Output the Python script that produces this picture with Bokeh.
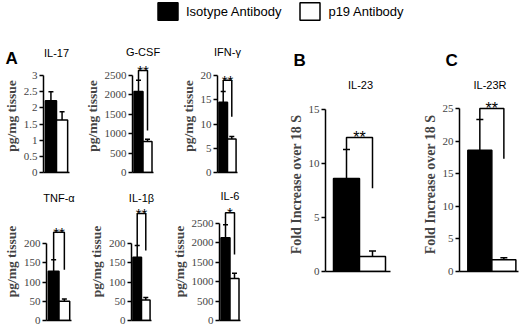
from bokeh.plotting import figure
from bokeh.layouts import row, column
from bokeh.models import (Range1d, FactorRange, FixedTicker, ColumnDataSource, Whisker, TeeHead,
                          Label, Title)
from bokeh.embed import file_html
from bokeh.resources import INLINE

# ---------------- data ----------------
groups = ["Isotype Antibody", "p19 Antibody"]
group_colors = ["black", "white"]
bar_x = [0.5, 1.5]

il17_vals = [2.22, 1.62]
il17_errs = [2.5, 1.88]
il17_ticks = [0, 0.5, 1, 1.5, 2, 2.5, 3]
il17_labels = ["0", "0.5", "1", "1.5", "2", "2.5", "3"]

gcsf_vals = [2090, 800]
gcsf_errs = [2380, 860]
gcsf_ticks = [0, 500, 1000, 1500, 2000, 2500]
gcsf_labels = ["0", "500", "1000", "1500", "2000", "2500"]

ifng_vals = [14.5, 6.9]
ifng_errs = [16.7, 7.4]
ifng_ticks = [0, 5, 10, 15, 20]
ifng_labels = ["0", "5", "10", "15", "20"]

tnfa_vals = [128, 50]
tnfa_errs = [158, 56]
tnfa_ticks = [0, 50, 100, 150, 200]
tnfa_labels = ["0", "50", "100", "150", "200"]

il1b_vals = [164, 53]
il1b_errs = [195, 60]
il1b_ticks = [0, 50, 100, 150, 200]
il1b_labels = ["0", "50", "100", "150", "200"]

il6_vals = [2135, 1085]
il6_errs = [2470, 1215]
il6_ticks = [0, 500, 1000, 1500, 2000, 2500]
il6_labels = ["0", "500", "1000", "1500", "2000", "2500"]

il23_vals = [8.6, 1.4]
il23_errs = [11.3, 1.9]
il23_ticks = [0, 5, 10, 15]
il23_labels = ["0", "5", "10", "15"]

il23r_vals = [18.6, 1.8]
il23r_errs = [23.3, 2.1]
il23r_ticks = [0, 5, 10, 15, 20, 25]
il23r_labels = ["0", "5", "10", "15", "20", "25"]

# significance: (marker, bracket top, right leg end)
il17_sig = None
gcsf_sig = ("**", 2630, 1080)
ifng_sig = ("**", 19.0, 11.5)
tnfa_sig = ("**", 229, 132)
il1b_sig = ("**", 278, 182)
il6_sig = ("*", 2780, 1700)
il23_sig = ("**", 12.4, 7.7)
il23r_sig = ("**", 25.0, 17.3)

SERIF = "Liberation Serif"
SANS = "Liberation Sans"


def make_panel(name, vals, errs, ticks, tick_labels, sig, ylabel, g):
    w, h, bl, br, bt, bb = g["w"], g["h"], g["bl"], g["br"], g["bt"], g["bb"]
    ppu, gap, top_px = g["ppu"], g["gap"], g["top_px"]
    fw = w - bl - br
    fh = h - bt - bb
    T = ticks[-1]
    x0 = -gap / ppu
    x1 = x0 + fw / ppu
    ys = T / top_px
    p = figure(width=w, height=h, x_range=Range1d(x0, x1), y_range=Range1d(0, fh * ys),
               min_border_left=bl, min_border_right=br, min_border_top=bt,
               min_border_bottom=bb, toolbar_location=None, output_backend="svg")
    p.outline_line_color = None
    p.xgrid.visible = False
    p.ygrid.visible = False
    p.background_fill_color = "white"
    p.border_fill_color = "white"

    src = ColumnDataSource(dict(x=bar_x, top=vals, err=errs, color=group_colors))
    p.vbar(x="x", top="top", bottom=0, width=1, fill_color="color",
           line_color="black", line_width=1.5, source=src)
    p.add_layout(Whisker(source=src, base="x", lower="top", upper="err",
                         dimension="height", line_width=1.5, line_color="black",
                         upper_head=TeeHead(size=g["cap"], line_width=1.5, line_color="black"),
                         lower_head=None))

    if sig is not None:
        mark, top, rend = sig
        p.line(x=[bar_x[0], bar_x[0], bar_x[1], bar_x[1]], y=[errs[0], top, top, rend],
               line_width=1.5, line_color="black")
        p.add_layout(Label(x=(bar_x[0] + bar_x[1]) / 2, y=top, text=mark,
                           text_align="center", text_baseline="alphabetic",
                           text_font=SANS, text_font_size=g["star"], text_color="black"))

    name_title = Title(text=name, align="center", standoff=g["title_so"],
                       text_font=SANS, text_font_size="11px", text_font_style="normal",
                       text_color="black")
    if g.get("letter"):
        letter_title = Title(text=g["letter"], align="left", offset=g["letter_dx"],
                             standoff=g["letter_so"], text_font=SANS, text_font_size="17px",
                             text_font_style="bold", text_color="black")
        if g.get("letter_first"):
            p.add_layout(letter_title, "above")
            p.add_layout(name_title, "above")
        else:
            p.add_layout(name_title, "above")
            p.add_layout(letter_title, "above")
    else:
        p.add_layout(name_title, "above")

    ya = p.yaxis[0]
    ya.ticker = FixedTicker(ticks=ticks)
    ya.major_label_overrides = {t: l for t, l in zip(ticks, tick_labels)}
    ya.bounds = (0, T)
    ya.axis_label = ylabel
    ya.axis_label_text_font = SERIF
    ya.axis_label_text_font_style = "bold"
    ya.axis_label_text_font_size = g["ylab"]
    ya.axis_label_standoff = 2
    ya.major_label_text_font = SERIF
    ya.major_label_text_font_size = "11px"
    ya.major_label_standoff = 2
    ya.major_tick_in = 0
    ya.major_tick_out = 4
    ya.major_tick_line_width = 1.5
    ya.minor_tick_line_color = None
    ya.axis_line_width = 1.5

    xa = p.xaxis[0]
    xa.ticker = FixedTicker(ticks=[])
    xa.major_label_text_font_size = "0px"
    xa.major_tick_line_color = None
    xa.minor_tick_line_color = None
    xa.bounds = (x0, g["xend"])
    xa.axis_line_width = 1.5
    return p


row1 = dict(h=153, bt=35, bb=5, ppu=12, gap=2, top_px=97, title_so=4, cap=5,
            star="15px", ylab="13.5px", xend=2.15)
row2 = dict(h=150, bt=25, bb=7, ppu=12, gap=2, top_px=77, title_so=-3, cap=5,
            star="15px", ylab="13.5px", xend=2.15)
right = dict(h=303, bt=73, bb=56, top_px=162, title_so=13, cap=7, star="16px",
             ylab="14px", xend=2.15, letter_so=1, ppu=26)

YL_A = "pg/mg tissue"
YL_B = "Fold Increase over 18 S"

f_il17 = make_panel("IL-17", il17_vals, il17_errs, il17_ticks, il17_labels, il17_sig, YL_A,
                    dict(row1, w=81, bl=41, br=12, title_so=-6, letter="A", letter_dx=-38,
                         letter_so=-17, letter_first=True))
f_gcsf = make_panel("G-CSF", gcsf_vals, gcsf_errs, gcsf_ticks, gcsf_labels, gcsf_sig, YL_A,
                    dict(row1, w=96, bl=44, br=24))
f_ifng = make_panel("IFN-\u03b3", ifng_vals, ifng_errs, ifng_ticks, ifng_labels, ifng_sig, YL_A,
                    dict(row1, w=83, bl=32, br=23))
f_tnfa = make_panel("TNF-\u03b1", tnfa_vals, tnfa_errs, tnfa_ticks, tnfa_labels, tnfa_sig, YL_A,
                    dict(row2, w=85, bl=43, br=14))
f_il1b = make_panel("IL-1\u03b2", il1b_vals, il1b_errs, il1b_ticks, il1b_labels, il1b_sig, YL_A,
                    dict(row2, w=83, bl=38, br=17))
f_il6 = make_panel("IL-6", il6_vals, il6_errs, il6_ticks, il6_labels, il6_sig, YL_A,
                   dict(row2, w=92, bl=44, br=20, top_px=97, title_so=1))
f_il23 = make_panel("IL-23", il23_vals, il23_errs, il23_ticks, il23_labels, il23_sig, YL_B,
                    dict(right, w=159, bl=65, br=24, gap=8, xend=2.19,
                         letter="B", letter_dx=-32))
f_il23r = make_panel("IL-23R", il23r_vals, il23r_errs, il23r_ticks, il23r_labels, il23r_sig, YL_B,
                     dict(right, w=101, bl=35, br=0, gap=9, xend=2.1, top_px=163,
                          letter="C", letter_dx=-14))

# legend strip: a hidden renderer carries the two group styles for the legend
lf = figure(width=520, height=24, x_range=FactorRange(*groups), y_range=Range1d(1, 2),
            x_axis_type=None, y_axis_type=None, min_border=0,
            toolbar_location=None, output_backend="svg")
lf.outline_line_color = None
lf.xgrid.visible = False
lf.ygrid.visible = False
lsrc = ColumnDataSource(dict(group=groups, color=group_colors, top=[0, 0]))
lr = lf.vbar(x="group", top="top", width=0.5, fill_color="color", line_color="black",
             line_width=1.5, source=lsrc, legend_group="group")
lr.visible = False
lg = lf.legend[0]
lg.orientation = "horizontal"
lg.location = (155, 2)
lg.spacing = 16
lg.glyph_width = 25
lg.glyph_height = 22
lg.label_standoff = 6
lg.label_height = 18
lg.padding = 0
lg.margin = 0
lg.border_line_color = None
lg.background_fill_alpha = 0
lg.inactive_fill_alpha = 0
lg.label_text_font = SANS
lg.label_text_font_size = "13px"
lg.label_text_color = "black"

layout = column(lf,
                row(column(row(f_il17, f_gcsf, f_ifng), row(f_tnfa, f_il1b, f_il6)),
                    f_il23, f_il23r))

open("out.html", "w").write(file_html(layout, INLINE))
